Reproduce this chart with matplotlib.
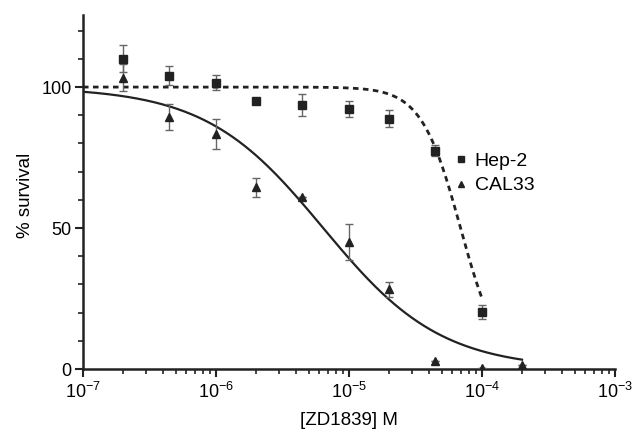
#!/usr/bin/env python3
import numpy as np
import matplotlib
matplotlib.use("Agg")
import matplotlib.pyplot as plt
from matplotlib.lines import Line2D
from matplotlib.ticker import MultipleLocator, LogLocator, FixedLocator

plt.rcParams['font.family'] = ['Liberation Sans', 'DejaVu Sans']
plt.rcParams['mathtext.default'] = 'regular'

# concentrations (M)
conc = [2e-7, 4.4e-7, 1e-6, 2e-6, 4.4e-6, 1e-5, 2e-5, 4.4e-5, 1e-4, 2e-4]

# Hep-2 (squares), no point at 2e-4
hep2_conc = conc[:9]
hep2_mean = [110.0, 104.0, 101.5, 95.0, 93.7, 92.2, 88.7, 77.4, 20.3]
hep2_err = [4.8, 3.3, 2.7, 0.8, 3.8, 2.7, 3.0, 2.0, 2.5]

# CAL33 (triangles)
cal33_mean = [103.3, 89.3, 83.3, 64.4, 61.1, 45.1, 28.3, 2.8, 0.3, 1.4]
cal33_err = [4.7, 4.6, 5.3, 3.5, 0.0, 6.5, 2.7, 0.0, 0.0, 0.0]

# sigmoid fit parameters: top, bottom, IC50, Hill slope, x range
hep2_fit = (100.0, 0.0, 6.9e-5, 2.95, 1e-7, 1e-4)
cal33_fit = (100.0, 0.0, 6.4e-6, 0.98, 1e-7, 2e-4)


def fit_curve(p):
    top, bottom, ic50, hill, x0, x1 = p
    x = np.logspace(np.log10(x0), np.log10(x1), 300)
    y = bottom + (top - bottom) / (1 + (x / ic50) ** hill)
    return x, y


fig = plt.figure(figsize=(6.32, 4.33), dpi=100)
ax = fig.add_axes([0.1313, 0.1478, 0.8418, 0.8172])

x, y = fit_curve(hep2_fit)
ax.plot(x, y, color='#222222', lw=2.0, ls=(0, (2.0, 1.6)))
x, y = fit_curve(cal33_fit)
ax.plot(x, y, color='#222222', lw=1.6)

ax.errorbar(hep2_conc, hep2_mean, yerr=hep2_err, fmt='s', color='#222222',
            ms=6, ecolor='#666666', elinewidth=1, capsize=3, capthick=1, zorder=3)
ax.errorbar(conc, cal33_mean, yerr=cal33_err, fmt='^', color='#222222',
            ms=6, ecolor='#666666', elinewidth=1, capsize=3, capthick=1, zorder=3)

ax.set_xscale('log')
ax.set_xlim(1e-7, 1e-3)
ax.set_ylim(0, 125.5)
ax.xaxis.set_major_locator(LogLocator(base=10, numticks=10))
ax.xaxis.set_minor_locator(LogLocator(base=10, subs=np.arange(2, 10), numticks=10))
ax.yaxis.set_major_locator(FixedLocator([0, 50, 100]))
ax.yaxis.set_minor_locator(MultipleLocator(10))

for s in ['top', 'right']:
    ax.spines[s].set_visible(False)
for s in ['left', 'bottom']:
    ax.spines[s].set_linewidth(1.8)
    ax.spines[s].set_color('#222222')

ax.tick_params(which='major', length=6, width=1.5, labelsize=13, color='#222222')
ax.tick_params(which='minor', length=3.5, width=1.2, color='#222222')
ax.tick_params(axis='y', which='major', pad=2)

ax.set_xlabel('[ZD1839] M', fontsize=13.5, labelpad=7)
ax.set_ylabel('% survival', fontsize=13.5)
ax.yaxis.set_label_coords(-0.092, 0.49)

handles = [Line2D([], [], ls='none', marker='s', ms=5, color='#222222'),
           Line2D([], [], ls='none', marker='^', ms=5, color='#222222')]
ax.legend(handles, ['Hep-2', 'CAL33'], loc='center left',
          bbox_to_anchor=(0.6925, 0.553), frameon=False, fontsize=14,
          handletextpad=0.2, labelspacing=0.35, handlelength=1.0,
          borderaxespad=0, borderpad=0)

plt.savefig('out.png', dpi=100)
